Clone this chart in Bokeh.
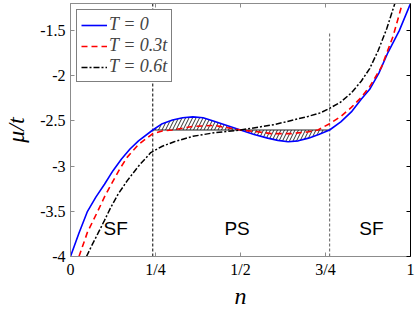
from bokeh.plotting import figure
from bokeh.models import (Range1d, FixedTicker, LinearAxis, Legend, LegendItem)
from bokeh.core.properties import value
from bokeh.embed import file_html
from bokeh.resources import INLINE

# ---- data ----
n_T0 = [0, 0.025, 0.05, 0.075, 0.1, 0.125, 0.15, 0.175, 0.2, 0.242, 0.27, 0.3, 0.33, 0.36, 0.39, 0.42, 0.46, 0.5,
        0.54, 0.58, 0.61, 0.64, 0.67, 0.7, 0.73, 0.762, 0.795, 0.826, 0.855, 0.88, 0.907, 0.934, 0.967, 1.0]
mu_T0 = [-4.0, -3.74, -3.5, -3.34, -3.2, -3.05, -2.92, -2.81, -2.72, -2.6, -2.53, -2.49, -2.465, -2.455, -2.465, -2.5, -2.55, -2.6,
         -2.65, -2.69, -2.715, -2.73, -2.72, -2.69, -2.65, -2.6, -2.51, -2.4, -2.26, -2.15, -1.97, -1.74, -1.5, -1.2]

n_T03 = [0.025, 0.05, 0.08, 0.1, 0.12, 0.145, 0.167, 0.2, 0.242, 0.27, 0.3, 0.36, 0.423, 0.5, 0.55, 0.59, 0.65, 0.7,
         0.728, 0.762, 0.795, 0.826, 0.855, 0.88, 0.915, 0.949, 0.976]
mu_T03 = [-4.0, -3.73, -3.5, -3.34, -3.2, -3.03, -2.9, -2.76, -2.64, -2.61, -2.6, -2.56, -2.55, -2.6, -2.62, -2.64, -2.64, -2.62,
          -2.6, -2.53, -2.45, -2.35, -2.24, -2.12, -1.9, -1.56, -1.2]

n_T06 = [0.047, 0.065, 0.08, 0.1, 0.118, 0.14, 0.167, 0.2, 0.236, 0.27, 0.305, 0.36, 0.423, 0.5, 0.6, 0.698, 0.735,
         0.762, 0.795, 0.826, 0.855, 0.88, 0.905, 0.93, 0.954]
mu_T06 = [-4.0, -3.86, -3.75, -3.6, -3.46, -3.31, -3.16, -3.0, -2.85, -2.78, -2.73, -2.67, -2.63, -2.6, -2.54, -2.45, -2.41,
          -2.36, -2.29, -2.19, -2.06, -1.92, -1.72, -1.48, -1.2]

mu_PS = -2.6          # Maxwell construction level
n_PS = [0.242, 0.762]  # phase-separation boundaries
mu_right_top = -1.52   # top of right boundary line

region_labels = ["SF", "PS", "SF"]
region_n = [0.133, 0.49, 0.885]
region_mu = [-3.69, -3.69, -3.69]

x_ticks = [0, 0.25, 0.5, 0.75, 1]
x_tick_labels = ["0", "1/4", "1/2", "3/4", "1"]
y_ticks = [-4, -3.5, -3, -2.5, -2, -1.5]
y_tick_labels = ["-4", "-3.5", "-3", "-2.5", "-2", "-1.5"]
legend_labels = ["T = 0", "T = 0.3t", "T = 0.6t"]

SERIF = "Liberation Serif"
SANS = "Liberation Sans"
GRAY = "#8c8c8c"

p = figure(width=415, height=311, output_backend="svg", toolbar_location=None,
           x_range=Range1d(0, 1), y_range=Range1d(-4, -1.2),
           min_border_left=70, min_border_right=5, min_border_top=3, min_border_bottom=55)
p.grid.visible = False
p.outline_line_color = GRAY
p.background_fill_color = "white"
p.border_fill_color = "white"

def style_axis(ax, ticks, labels, show_labels=True, color=GRAY):
    ax.ticker = FixedTicker(ticks=ticks)
    ax.major_label_overrides = {t: l for t, l in zip(ticks, labels)}
    ax.major_tick_in = 4
    ax.major_tick_out = 0
    ax.minor_tick_line_color = None
    ax.axis_line_color = color
    ax.major_tick_line_color = color
    ax.major_label_text_font = SERIF
    ax.major_label_text_font_size = "16px"
    ax.major_label_text_color = "black"
    if not show_labels:
        ax.major_label_text_font_size = "0px"
        ax.major_label_text_color = None
        ax.major_label_standoff = 0

style_axis(p.xaxis[0], x_ticks, x_tick_labels)
style_axis(p.yaxis[0], y_ticks, y_tick_labels)
p.xaxis[0].major_label_standoff = 4
p.yaxis[0].major_label_standoff = 5
p.xaxis[0].axis_label = "n"
p.yaxis[0].axis_label = "μ/t"
for ax in (p.xaxis[0], p.yaxis[0]):
    ax.axis_label_text_font = SERIF
    ax.axis_label_text_font_style = "italic"
    ax.axis_label_text_font_size = "24px"
    ax.axis_label_text_color = "black"
p.xaxis[0].axis_label_standoff = 2
p.yaxis[0].axis_label_standoff = 8

top_ax = LinearAxis()
style_axis(top_ax, x_ticks, x_tick_labels, show_labels=False)
p.add_layout(top_ax, "above")
right_ax = LinearAxis()
style_axis(right_ax, y_ticks, y_tick_labels, show_labels=False, color="black")
p.add_layout(right_ax, "right")

# hatched region between T=0 curve and PS level
hn = [x for x in n_T0 if n_PS[0] <= x <= n_PS[1]]
hm = [m for x, m in zip(n_T0, mu_T0) if n_PS[0] <= x <= n_PS[1]]
p.varea(x=hn, y1=[mu_PS] * len(hn), y2=hm, fill_alpha=0,
        hatch_pattern="/", hatch_color="black", hatch_scale=7, hatch_weight=0.8)
p.line(n_PS, [mu_PS, mu_PS], line_color="#222222", line_width=1)

# phase boundaries
p.line([n_PS[0], n_PS[0]], [-4, -1.2], line_color="black", line_dash="3 2", line_width=1)
p.line([n_PS[1], n_PS[1]], [-4, mu_right_top], line_color="#777777", line_dash="3 2", line_width=1.2)

r0 = p.line(n_T0, mu_T0, line_color="#0000ff", line_width=1.6)
r1 = p.line(n_T03, mu_T03, line_color="#ff0000", line_width=1.6, line_dash="6 4")
r2 = p.line(n_T06, mu_T06, line_color="black", line_width=1.5, line_dash="6 2 2 2")

p.text(x=region_n, y=region_mu, text=region_labels, text_font=value(SANS), text_font_size="19px",
       text_align="center", text_baseline="middle", text_color="black")

legend = Legend(items=[LegendItem(label=legend_labels[0], renderers=[r0]),
                       LegendItem(label=legend_labels[1], renderers=[r1]),
                       LegendItem(label=legend_labels[2], renderers=[r2])],
                location="top_left")
legend.label_text_font = SERIF
legend.label_text_font_style = "italic"
legend.label_text_font_size = "18px"
legend.label_height = 20
legend.glyph_height = 20
legend.glyph_width = 26
legend.label_standoff = 2
legend.spacing = 0
legend.padding = 4
legend.margin = 6
legend.border_line_color = "black"
legend.border_line_width = 1
legend.background_fill_alpha = 1
p.add_layout(legend, "center")

open("out.html", "w").write(file_html(p, INLINE))
